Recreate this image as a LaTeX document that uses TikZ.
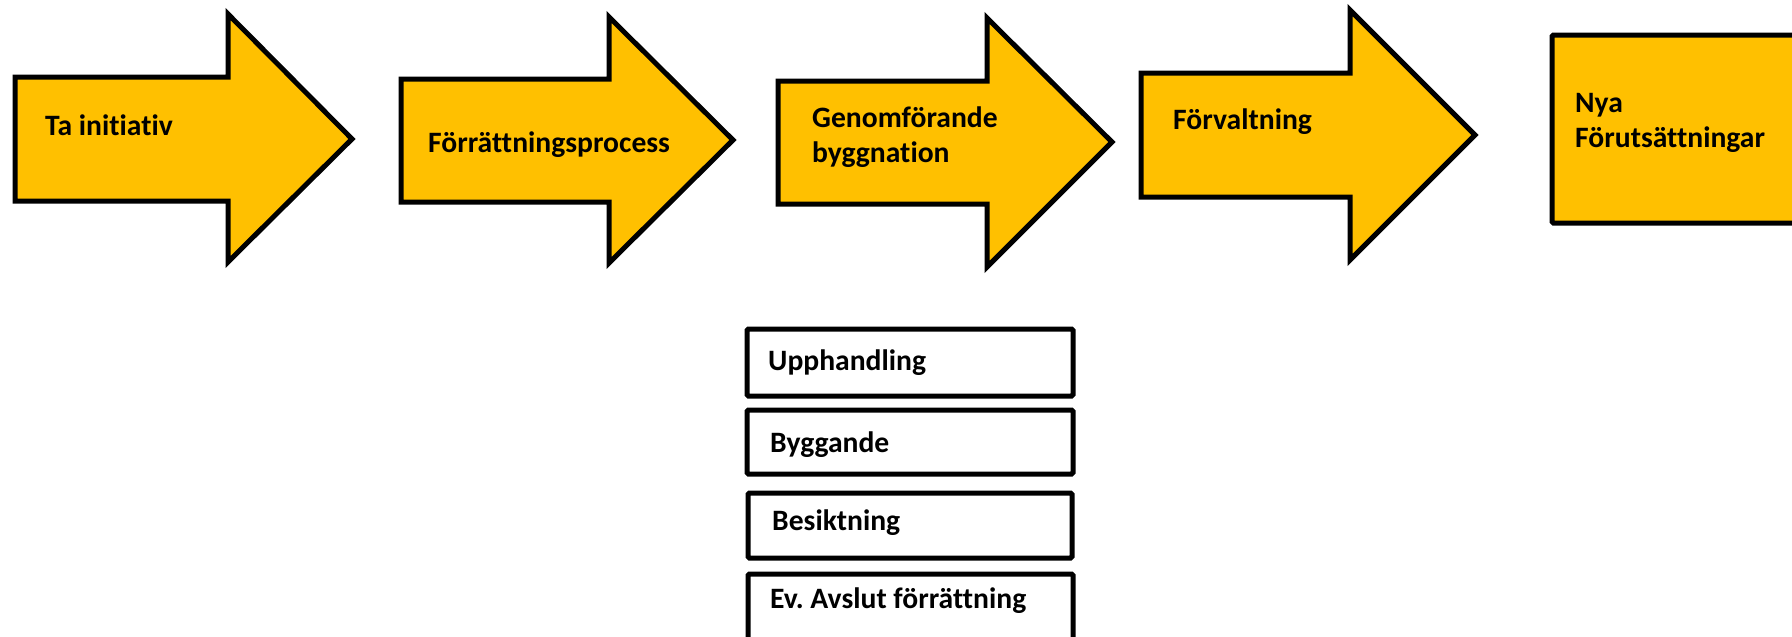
\documentclass[tikz,border=0pt]{standalone}
\usepackage{fontspec}
\setmainfont{Carlito}[Ligatures=NoCommon]
\frenchspacing
\definecolor{gold}{HTML}{FFC000}
% block arrow: #1 left, #2 body top, #3 body bottom, #4 head base x,
% #5 head top, #6 head bottom, #7 tip x, #8 tip y
\newcommand\procarrow[8]{%
  \draw[arrowshape] (#1,#2) -- (#4,#2) -- (#4,#5) -- (#7,#8) -- (#4,#6)
    -- (#4,#3) -- (#1,#3) -- cycle;}
\begin{document}
\begin{tikzpicture}[x=1pt,y=-1pt,
  arrowshape/.style={draw=black, line width=5pt, fill=gold, line join=miter},
  goldbox/.style={draw=black, line width=5pt, fill=gold, rounded corners=1.5pt},
  box/.style={draw=black, line width=5pt, fill=white, rounded corners=1.5pt},
  lbl/.style={anchor=base west, inner sep=0pt, align=left,
    font=\fontsize{29.6}{35}\selectfont\bfseries}]
\useasboundingbox (0,0) rectangle (1792,637);
\begin{scope}
\clip (0,0) rectangle (1792,637);
% process arrows
\procarrow{15}{77}{201}{228}{14}{262}{352}{139}
\procarrow{401}{79}{202}{609}{17}{263}{733}{140}
\procarrow{778}{81}{204}{987}{18}{267}{1112}{142}
\procarrow{1141}{73}{197}{1350}{10}{260}{1475}{135}
% final stage
\draw[goldbox] (1552,35) rectangle (1810,223);
% sub-steps of the construction stage
\draw[box] (747,329) rectangle (1073,396);
\draw[box] (747,410) rectangle (1073,474);
\draw[box] (748,493) rectangle (1072,558);
\draw[box] (748,574) rectangle (1073,660);
\end{scope}
% labels (multi-line labels sit on the baseline of their last line)
\node[lbl] (initiativ) at (45,135) {Ta initiativ};
\node[lbl] (forratt) at (428,152) {Förrättningsprocess};
\node[lbl] (genomf) at (812,162) {Genomförande\\byggnation};
\node[lbl] (forvalt) at (1173,129) {Förvaltning};
\node[lbl] (nya) at (1575,147) {Nya\\Förutsättningar};
\node[lbl] (upph) at (768,370) {Upphandling};
\node[lbl] (bygg) at (770,452) {Byggande};
\node[lbl] (besikt) at (772,530) {Besiktning};
\node[lbl] (avslut) at (770,608) {Ev. Avslut förrättning};
\end{tikzpicture}
\end{document}
